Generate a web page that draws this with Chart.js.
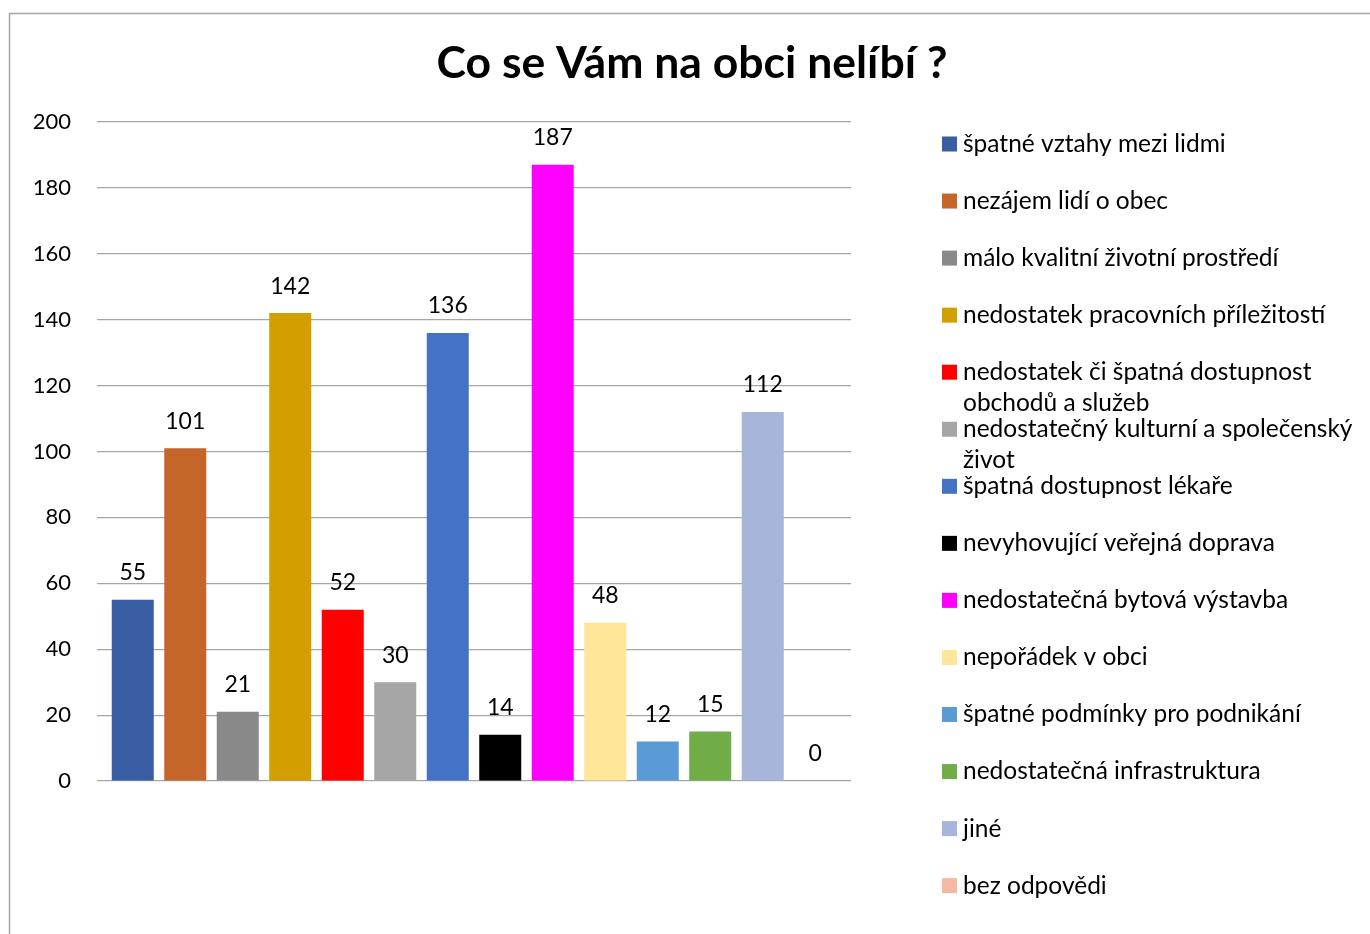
<!DOCTYPE html>
<html>
<head>
<meta charset="utf-8">
<script src="https://cdn.jsdelivr.net/npm/chart.js@4"></script>
<style>
  html, body { margin: 0; padding: 0; background: #fff; }
  #wrap { width: 1370px; height: 934px; }
</style>
</head>
<body>
<div id="wrap"><canvas id="myChart" width="1370" height="934"></canvas></div>
<script>
// series names (legend), values and bar colours
const chartTitle = 'Co se Vám na obci nelíbí ?';
const seriesNames = [
    'špatné vztahy mezi lidmi',
    'nezájem lidí o obec',
    'málo kvalitní životní prostředí',
    'nedostatek pracovních příležitostí',
    ['nedostatek či špatná dostupnost', 'obchodů a služeb'],
    ['nedostatečný kulturní a společenský', 'život'],
    'špatná dostupnost lékaře',
    'nevyhovující veřejná doprava',
    'nedostatečná bytová výstavba',
    'nepořádek v obci',
    'špatné podmínky pro podnikání',
    'nedostatečná infrastruktura',
    'jiné',
    'bez odpovědi'
];
const seriesValues = [55, 101, 21, 142, 52, 30, 136, 14, 187, 48, 12, 15, 112, 0];
const seriesColors = ['#385DA2', '#C4652A', '#898989', '#D29E00', '#FF0000', '#A6A6A6', '#4472C4',
    '#000000', '#FF00FF', '#FFE699', '#5B9BD5', '#70AD47', '#A8B5DA', '#F4B8A4'];
const yTicks = [0, 20, 40, 60, 80, 100, 120, 140, 160, 180, 200];

const FONT = 'Lato, "Open Sans", sans-serif';

const datasets = seriesValues.map(function(v, i) {
    return {
        label: seriesNames[i],
        data: [v],
        backgroundColor: seriesColors[i],
        borderWidth: 0
    };
});

// grey frame like the Excel chart border + title centred on the whole chart
const framePlugin = {
    id: 'frame',
    beforeDraw(chart) {
        const ctx = chart.ctx;
        ctx.save();
        ctx.strokeStyle = '#a6a6a6';
        ctx.lineWidth = 1.5;
        ctx.beginPath();
        ctx.moveTo(9.5, chart.height);
        ctx.lineTo(9.5, 13.5);
        ctx.lineTo(chart.width, 13.5);
        ctx.stroke();
        ctx.font = 'bold 44.5px ' + FONT;
        ctx.fillStyle = '#000';
        ctx.textAlign = 'center';
        ctx.textBaseline = 'alphabetic';
        ctx.fillText(chartTitle, 692, 78);
        ctx.restore();
    }
};

// value labels above each bar
const valueLabels = {
    id: 'valueLabels',
    afterDatasetsDraw(chart) {
        const ctx = chart.ctx;
        ctx.save();
        ctx.font = '23px ' + FONT;
        ctx.fillStyle = '#000';
        ctx.textAlign = 'center';
        ctx.textBaseline = 'middle';
        chart.data.datasets.forEach(function(ds, i) {
            const bar = chart.getDatasetMeta(i).data[0];
            ctx.fillText(String(ds.data[0]), bar.x, bar.y - 27);
        });
        ctx.restore();
    }
};

// legend on the right, fixed row step, long names wrap onto a second line
const sideLegend = {
    id: 'sideLegend',
    afterDraw(chart) {
        const ctx = chart.ctx;
        const x0 = 942, y0 = 144, step = 57.05;
        ctx.save();
        ctx.font = '24.5px ' + FONT;
        ctx.textBaseline = 'middle';
        ctx.textAlign = 'left';
        chart.data.datasets.forEach(function(ds, i) {
            const y = y0 + step * i;
            ctx.fillStyle = ds.backgroundColor;
            ctx.fillRect(x0, y - 7.5, 15, 15);
            ctx.fillStyle = '#000';
            const lines = Array.isArray(ds.label) ? ds.label : [ds.label];
            lines.forEach(function(t, j) {
                ctx.fillText(t, x0 + 21, y + j * 31);
            });
        });
        ctx.restore();
    }
};

const ctx = document.getElementById('myChart').getContext('2d');
const myChart = new Chart(ctx, {
    type: 'bar',
    data: {
        labels: [''],
        datasets: datasets
    },
    options: {
        responsive: false,
        animation: false,
        layout: {
            padding: { top: 122, right: 519, bottom: 153, left: 0 }
        },
        datasets: {
            bar: {
                categoryPercentage: 0.9748,
                barPercentage: 0.8
            }
        },
        scales: {
            x: {
                display: false
            },
            y: {
                min: 0,
                max: 200,
                afterBuildTicks(scale) {
                    scale.ticks = yTicks.map(v => ({ value: v }));
                },
                afterFit(scale) {
                    scale.width = 97;
                },
                border: { display: false },
                grid: {
                    color: '#a6a6a6',
                    lineWidth: 1.2,
                    drawTicks: false
                },
                ticks: {
                    padding: 26,
                    color: '#000',
                    font: { family: FONT, size: 22 }
                }
            }
        },
        plugins: {
            legend: { display: false },
            tooltip: { enabled: false },
            title: { display: false }
        }
    },
    plugins: [framePlugin, valueLabels, sideLegend]
});
</script>
</body>
</html>
